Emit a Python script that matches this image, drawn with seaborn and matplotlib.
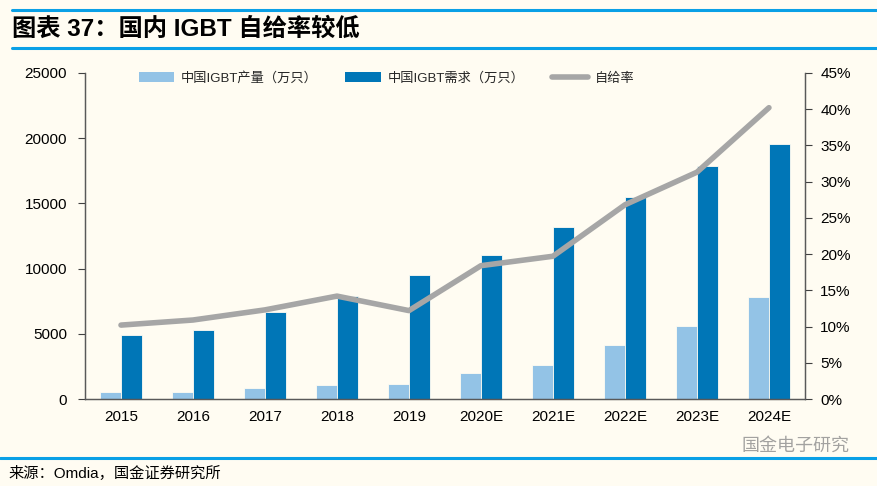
import matplotlib
matplotlib.use("Agg")
import matplotlib.pyplot as plt
import matplotlib.ticker as mticker
from matplotlib.patches import Patch
from matplotlib.lines import Line2D
import seaborn as sns
import numpy as np
import pandas as pd

# Datos (万只)
anios = ["2015", "2016", "2017", "2018", "2019",
         "2020E", "2021E", "2022E", "2023E", "2024E"]
produccion = [510, 560, 840, 1100, 1150, 2020, 2600, 4140, 5600, 7820]
demanda = [4900, 5270, 6700, 7900, 9510, 11020, 13210, 15490, 17890, 19550]
autosuficiencia = [10.2, 10.9, 12.3, 14.2, 12.2, 18.4, 19.7, 26.8, 31.3, 40.2]

etiqueta_prod = "中国IGBT产量（万只）"
etiqueta_dem = "中国IGBT需求（万只）"
etiqueta_ratio = "自给率"

COLOR_FONDO = "#FFFCF2"
COLOR_CLARO = "#93C3E6"
COLOR_OSCURO = "#0076B7"
COLOR_LINEA = "#A6A6A6"
COLOR_AZUL = "#0AA0E6"

sns.set_theme(style="white")
plt.rcParams["font.family"] = ["Liberation Sans", "Noto Sans CJK SC", "DejaVu Sans"]

tabla = pd.DataFrame({
    "anio": anios * 2,
    "valor": produccion + demanda,
    "serie": [etiqueta_prod] * len(anios) + [etiqueta_dem] * len(anios),
})

figura = plt.figure(figsize=(8.78, 4.86), dpi=100, facecolor=COLOR_FONDO)
area = figura.add_axes([0.0968, 0.179, 0.82, 0.671])
area.set_facecolor(COLOR_FONDO)

sns.barplot(data=tabla, x="anio", y="valor", hue="serie", order=anios,
            palette=[COLOR_CLARO, COLOR_OSCURO], saturation=1, width=0.58, ax=area,
            edgecolor=COLOR_FONDO, linewidth=0.6, legend=False)

area.set_xlim(-0.5, len(anios) - 0.5)
area.set_ylim(0, 25000)
area.yaxis.set_major_locator(mticker.MultipleLocator(5000))
area.set_xlabel("")
area.set_ylabel("")

# marcas del eje x entre categorías
area.set_xticks(np.arange(len(anios) + 1) - 0.5, minor=True)
area.tick_params(axis="x", which="major", length=0, labelsize=11, pad=8, colors="black")
area.tick_params(axis="x", which="minor", length=5, width=0.8, color="#404040", direction="out")
area.tick_params(axis="y", length=5, width=0.8, color="#404040", direction="out",
                 labelsize=11, pad=8, labelcolor="black")

eje_der = area.twinx()
sns.lineplot(x=np.arange(len(anios)), y=autosuficiencia, ax=eje_der,
             color=COLOR_LINEA, linewidth=4, solid_capstyle="round")
eje_der.set_ylim(0, 45)
eje_der.yaxis.set_major_locator(mticker.MultipleLocator(5))
eje_der.yaxis.set_major_formatter(mticker.FuncFormatter(lambda v, p: f"{v:.0f}%"))
eje_der.tick_params(axis="y", length=5, width=0.8, color="#404040", direction="out",
                    labelsize=11, pad=6, labelcolor="black")
eje_der.set_xlim(-0.5, len(anios) - 0.5)

for eje in (area, eje_der):
    eje.spines["top"].set_visible(False)
    for lado in ("left", "right", "bottom"):
        eje.spines[lado].set_color("#595959")
        eje.spines[lado].set_linewidth(0.9)
    eje.grid(False)

manijas = [
    Patch(facecolor=COLOR_CLARO, edgecolor="none"),
    Patch(facecolor=COLOR_OSCURO, edgecolor="none"),
    Line2D([0], [0], color=COLOR_LINEA, linewidth=4, solid_capstyle="round"),
]
area.legend(manijas, [etiqueta_prod, etiqueta_dem, etiqueta_ratio], ncol=3,
            loc="upper left", bbox_to_anchor=(0.058, 1.04), frameon=False,
            fontsize=9.5, handlelength=2.7, handleheight=0.75, columnspacing=2.1,
            handletextpad=0.5)

# título y pie
figura.add_artist(Line2D([0.014, 1.0], [1 - 10 / 486] * 2, color=COLOR_AZUL, linewidth=2.2))
figura.add_artist(Line2D([0.014, 1.0], [1 - 48 / 486] * 2, color=COLOR_AZUL, linewidth=2.2))
figura.text(0.014, 1 - 29 / 486, "图表 37：国内 IGBT 自给率较低", fontsize=17.5,
            fontweight="bold", va="center", ha="left", color="black")

figura.add_artist(Line2D([0.0, 1.0], [1 - 458 / 486] * 2, color=COLOR_AZUL, linewidth=2.2))
figura.text(0.010, 1 - 473 / 486, "来源：Omdia，国金证券研究所", fontsize=11,
            va="center", ha="left", color="black")
figura.text(0.967, 1 - 446 / 486, "国金电子研究", fontsize=13, va="center", ha="right",
            color="#8C8C8C", alpha=0.8)

figura.savefig("out.png", dpi=100, facecolor=COLOR_FONDO)
plt.close(figura)
